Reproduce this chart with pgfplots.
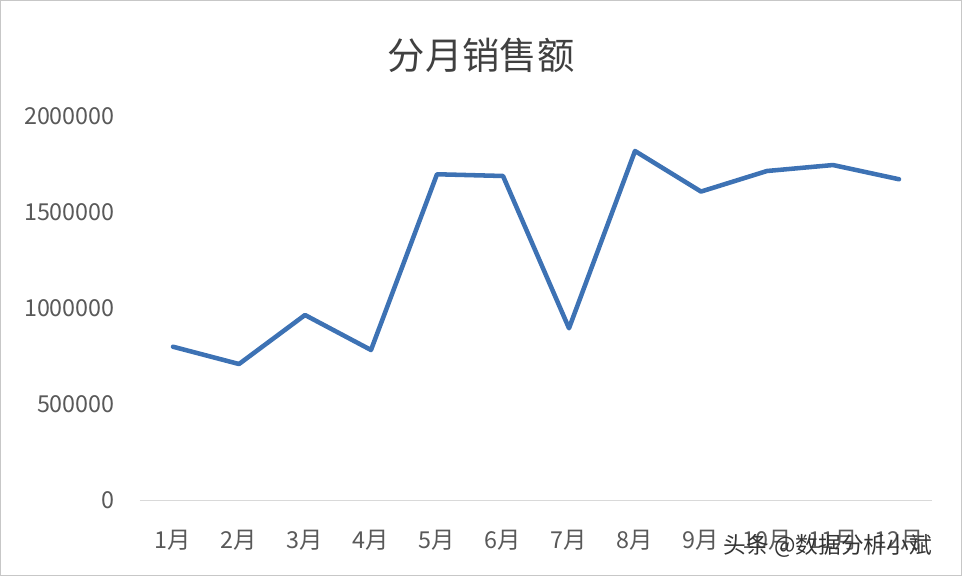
\documentclass[border=0pt]{standalone}
\usepackage{fontspec}
\setmainfont{Noto Sans CJK SC}
\usepackage{pgfplots}
\pgfplotsset{compat=1.18}
\definecolor{linieblau}{RGB}{61,114,180}
\definecolor{textgrau}{RGB}{89,89,89}
\definecolor{titelgrau}{RGB}{64,64,64}
\definecolor{achsgrau}{RGB}{217,217,217}

\begin{document}
\begin{tikzpicture}
% Bildgrenzen: 962x576 px, 1px = 0.75pt
\useasboundingbox (-105pt,-56.6pt) rectangle (616.5pt,375.4pt);
\draw[achsgrau!80!gray, line width=1pt] (-104.5pt,-56.1pt) rectangle (616pt,374.9pt);
\begin{axis}[
    at={(0,0)}, anchor=south west,
    scale only axis,
    width=594pt, height=288.4pt,
    xmin=0.5, xmax=12.5,
    ymin=0, ymax=2000000,
    scaled y ticks=false,
    axis line style={draw=none},
    tick style={draw=none},
    xtick={1,...,12},
    xticklabels={1月,2月,3月,4月,5月,6月,7月,8月,9月,10月,11月,12月},
    ytick={0,500000,1000000,1500000,2000000},
    yticklabels={0,500000,1000000,1500000,2000000},
    extra y ticks={0},
    extra y tick labels={},
    extra y tick style={grid=major, major grid style={draw=achsgrau, line width=1pt}},
    ticklabel style={font=\fontsize{17.5pt}{20pt}\selectfont, text=textgrau},
    yticklabel style={anchor=east, inner sep=0pt, xshift=-18.75pt},
    xticklabel style={anchor=center, inner sep=0pt, yshift=-29.6pt},
    clip=false,
]
\addplot[linieblau, line width=3.4pt, line join=round, line cap=round] coordinates {
    (1, 800000)
    (2, 710000)
    (3, 965000)
    (4, 783000)
    (5, 1697000)
    (6, 1688000)
    (7, 896000)
    (8, 1818000)
    (9, 1607000)
    (10, 1714000)
    (11, 1745000)
    (12, 1671000)
};
\node[font=\fontsize{28pt}{32pt}\selectfont, text=titelgrau] at (rel axis cs:0.4306,1.158) {分月销售额};
\node[font=\fontsize{17pt}{20pt}\selectfont, text=black!80, anchor=east, inner sep=0pt] at (rel axis cs:1.0,-0.117) {头条 @数据分析小斌};
\end{axis}
\end{tikzpicture}
\end{document}
